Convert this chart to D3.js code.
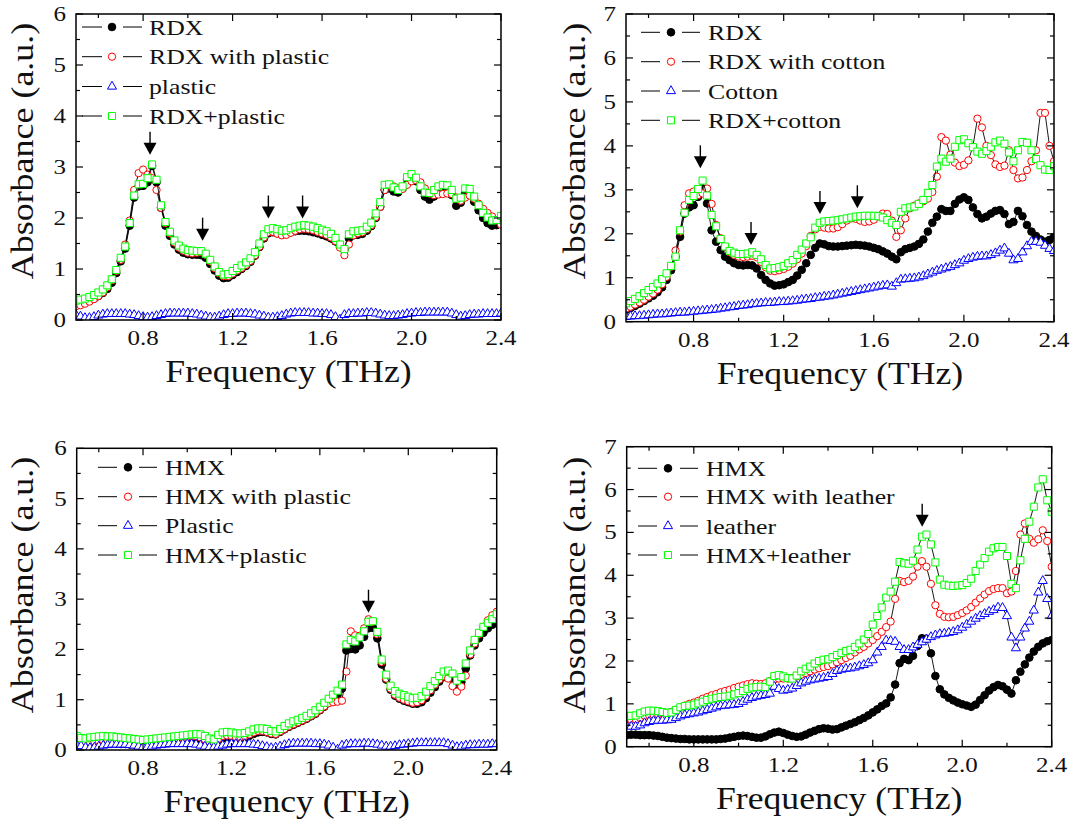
<!DOCTYPE html>
<html><head><meta charset="utf-8">
<script src="https://cdn.jsdelivr.net/npm/d3@7"></script>
<style>body{margin:0;background:#fff} svg{display:block}</style>
</head><body>
<svg id="c" width="1075" height="824"></svg>
<script>
// ---------- DATA ----------
const freq = [0.50,0.52,0.54,0.56,0.58,0.60,0.62,0.64,0.66,0.68,
0.70,0.72,0.74,0.76,0.78,0.80,0.82,0.84,0.86,0.88,
0.90,0.92,0.94,0.96,0.98,1.00,1.02,1.04,1.06,1.08,
1.10,1.12,1.14,1.16,1.18,1.20,1.22,1.24,1.26,1.28,
1.30,1.32,1.34,1.36,1.38,1.40,1.42,1.44,1.46,1.48,
1.50,1.52,1.54,1.56,1.58,1.60,1.62,1.64,1.66,1.68,
1.70,1.72,1.74,1.76,1.78,1.80,1.82,1.84,1.86,1.88,
1.90,1.92,1.94,1.96,1.98,2.00,2.02,2.04,2.06,2.08,
2.10,2.12,2.14,2.16,2.18,2.20,2.22,2.24,2.26,2.28,
2.30,2.32,2.34,2.36,2.38,2.40];

const xMajorTicks = [0.8,1.2,1.6,2.0,2.4];
const xTickLabels = ["0.8","1.2","1.6","2.0","2.4"];
const xMinorTicks = [0.6,1.0,1.4,1.8,2.2];

// Top-left: RDX / plastic
const tlNames = ["RDX","RDX with plastic","plastic","RDX+plastic"];
const tlRDX = [0.30,0.32,0.35,0.38,0.42,0.47,0.53,0.61,0.73,0.92,
1.15,1.40,1.85,2.40,2.62,2.63,2.70,3.02,2.70,2.20,
1.85,1.65,1.48,1.38,1.32,1.29,1.28,1.28,1.27,1.22,
1.10,0.97,0.87,0.82,0.83,0.88,0.94,1.00,1.06,1.14,
1.26,1.43,1.60,1.70,1.72,1.70,1.68,1.69,1.72,1.74,
1.75,1.75,1.74,1.72,1.70,1.67,1.64,1.60,1.54,1.45,
1.38,1.60,1.66,1.67,1.69,1.75,1.84,2.00,2.22,2.55,
2.58,2.52,2.50,2.58,2.76,2.82,2.72,2.55,2.42,2.36,
2.42,2.50,2.55,2.54,2.45,2.24,2.30,2.50,2.48,2.32,
2.15,2.00,1.90,1.85,1.86,1.92];
const tlRDXPlastic = [0.27,0.29,0.32,0.36,0.41,0.47,0.54,0.64,0.78,0.96,
1.18,1.48,1.95,2.55,2.88,2.95,2.85,2.78,2.55,2.20,
1.90,1.70,1.52,1.42,1.36,1.32,1.31,1.32,1.33,1.28,
1.15,1.02,0.92,0.86,0.86,0.91,0.97,1.02,1.08,1.16,
1.27,1.44,1.62,1.72,1.73,1.69,1.66,1.67,1.71,1.75,
1.78,1.79,1.78,1.76,1.73,1.70,1.67,1.62,1.55,1.42,
1.27,1.48,1.66,1.70,1.72,1.78,1.86,2.02,2.22,2.55,
2.64,2.62,2.58,2.57,2.65,2.72,2.74,2.70,2.58,2.48,
2.45,2.46,2.47,2.48,2.47,2.40,2.34,2.40,2.44,2.38,
2.28,2.18,2.10,2.03,1.95,1.87];
const tlPlastic = [0.10,0.07,0.04,0.04,0.06,0.09,0.11,0.12,0.12,0.12,
0.12,0.12,0.11,0.10,0.08,0.06,0.05,0.06,0.08,0.10,
0.12,0.13,0.13,0.13,0.13,0.13,0.12,0.11,0.09,0.07,
0.05,0.05,0.07,0.10,0.12,0.12,0.13,0.13,0.13,0.12,
0.11,0.09,0.07,0.05,0.05,0.06,0.08,0.11,0.13,0.14,
0.14,0.14,0.14,0.13,0.13,0.12,0.12,0.10,0.06,0.01,
0.10,0.12,0.12,0.13,0.13,0.14,0.14,0.13,0.11,0.09,
0.08,0.08,0.09,0.10,0.12,0.13,0.14,0.14,0.15,0.15,
0.15,0.15,0.15,0.15,0.13,0.10,0.07,0.08,0.10,0.11,
0.11,0.12,0.12,0.12,0.12,0.13];
const tlMix = [0.38,0.40,0.42,0.45,0.49,0.54,0.60,0.68,0.80,0.98,
1.22,1.44,1.90,2.44,2.66,2.67,2.78,3.05,2.75,2.25,
1.92,1.73,1.56,1.46,1.40,1.37,1.36,1.35,1.35,1.30,
1.18,1.05,0.94,0.89,0.90,0.96,1.02,1.07,1.13,1.21,
1.33,1.50,1.68,1.78,1.80,1.78,1.75,1.76,1.80,1.83,
1.85,1.86,1.85,1.83,1.80,1.77,1.74,1.69,1.61,1.48,
1.39,1.68,1.74,1.75,1.76,1.83,1.91,2.09,2.31,2.65,
2.66,2.60,2.55,2.62,2.80,2.86,2.79,2.62,2.50,2.49,
2.55,2.62,2.65,2.64,2.55,2.38,2.40,2.58,2.57,2.42,
2.25,2.10,2.01,1.95,1.96,2.04];
const tlArrowX = [0.831,1.066,1.36,1.513];
const tlArrowY = [3.24,1.555,1.99,1.99];

// Top-right: RDX / cotton
const trNames = ["RDX","RDX with cotton","Cotton","RDX+cotton"];
const trRDX = [0.27,0.31,0.36,0.41,0.47,0.53,0.59,0.67,0.78,0.95,
1.17,1.48,1.93,2.46,2.60,2.65,2.84,3.03,2.69,2.08,
1.82,1.63,1.48,1.40,1.33,1.29,1.28,1.29,1.28,1.21,
1.06,0.95,0.87,0.82,0.83,0.85,0.90,0.95,1.05,1.18,
1.33,1.52,1.68,1.78,1.76,1.72,1.71,1.71,1.72,1.73,
1.74,1.75,1.74,1.73,1.71,1.68,1.65,1.60,1.55,1.48,
1.42,1.58,1.65,1.68,1.71,1.77,1.87,2.05,2.25,2.39,
2.56,2.52,2.52,2.68,2.78,2.83,2.77,2.60,2.45,2.35,
2.39,2.46,2.52,2.54,2.45,2.22,2.27,2.52,2.40,2.20,
2.05,1.95,1.87,1.82,1.86,1.93];
const trRDXCotton = [0.30,0.34,0.39,0.44,0.50,0.57,0.64,0.73,0.85,1.02,
1.25,1.62,2.05,2.65,2.92,2.96,2.88,2.92,3.03,2.68,
2.20,1.90,1.70,1.58,1.52,1.48,1.47,1.48,1.50,1.47,
1.36,1.24,1.16,1.15,1.17,1.20,1.25,1.32,1.42,1.55,
1.72,1.95,2.10,2.16,2.14,2.12,2.12,2.15,2.22,2.30,
2.35,2.34,2.30,2.27,2.28,2.32,2.40,2.46,2.45,2.30,
1.93,2.08,2.35,2.58,2.64,2.69,2.74,2.80,2.95,3.30,
4.20,4.12,3.80,3.62,3.54,3.57,3.67,3.98,4.62,4.42,
4.00,3.79,3.58,3.52,3.55,3.90,3.45,3.26,3.28,3.45,
3.65,3.90,4.75,4.75,4.00,3.65];
const trCotton = [0.11,0.12,0.13,0.13,0.14,0.15,0.16,0.17,0.17,0.18,
0.19,0.20,0.21,0.21,0.22,0.23,0.24,0.25,0.26,0.27,
0.28,0.30,0.31,0.33,0.34,0.36,0.37,0.38,0.40,0.41,
0.42,0.43,0.43,0.44,0.45,0.45,0.46,0.47,0.48,0.50,
0.51,0.52,0.54,0.55,0.57,0.58,0.60,0.62,0.64,0.66,
0.68,0.70,0.72,0.74,0.76,0.78,0.80,0.82,0.83,0.80,
0.88,0.96,0.97,0.98,0.99,1.01,1.04,1.08,1.12,1.16,
1.19,1.22,1.25,1.29,1.33,1.39,1.43,1.46,1.48,1.49,
1.49,1.52,1.56,1.62,1.67,1.55,1.40,1.43,1.58,1.72,
1.82,1.82,1.80,1.73,1.66,1.61];
const trMix = [0.42,0.47,0.52,0.58,0.65,0.72,0.79,0.87,0.97,1.10,
1.27,1.48,2.08,2.48,2.77,2.86,3.02,3.21,2.87,2.43,
2.17,1.88,1.71,1.61,1.57,1.54,1.54,1.55,1.58,1.52,
1.42,1.29,1.21,1.22,1.24,1.27,1.33,1.40,1.52,1.64,
1.78,1.92,2.14,2.25,2.28,2.29,2.30,2.31,2.33,2.35,
2.37,2.39,2.40,2.41,2.41,2.41,2.40,2.37,2.31,2.25,
2.20,2.50,2.58,2.60,2.62,2.68,2.77,2.93,3.11,3.53,
3.71,3.64,3.71,3.98,4.13,4.15,4.06,3.97,3.87,3.82,
3.88,3.98,4.08,4.12,4.05,3.85,3.65,3.90,4.09,4.07,
3.90,3.70,3.56,3.46,3.45,3.54];
const trArrowX = [0.83,1.055,1.361,1.527];
const trArrowY = [3.49,1.745,2.45,2.58];

// Bottom-left: HMX / plastic
const blNames = ["HMX","HMX with plastic","Plastic","HMX+plastic"];
const blHMX = [0.16,0.14,0.12,0.12,0.13,0.14,0.15,0.15,0.14,0.13,
0.12,0.12,0.11,0.11,0.10,0.10,0.10,0.11,0.12,0.13,
0.14,0.15,0.16,0.18,0.20,0.22,0.23,0.23,0.21,0.17,
0.13,0.12,0.18,0.23,0.25,0.24,0.22,0.22,0.24,0.28,
0.32,0.35,0.36,0.35,0.32,0.31,0.36,0.41,0.46,0.50,
0.54,0.58,0.62,0.67,0.72,0.79,0.86,0.94,1.02,1.10,
1.22,1.98,2.01,2.00,2.08,2.25,2.42,2.43,2.22,1.70,
1.40,1.20,1.08,1.02,0.98,0.95,0.92,0.92,0.95,1.03,
1.14,1.25,1.36,1.45,1.48,1.43,1.30,1.35,1.62,1.88,
2.08,2.22,2.33,2.42,2.49,2.55];
const blHMXPlastic = [0.18,0.16,0.15,0.16,0.17,0.18,0.19,0.19,0.18,0.17,
0.16,0.15,0.15,0.14,0.13,0.13,0.13,0.14,0.15,0.16,
0.17,0.18,0.20,0.22,0.24,0.26,0.27,0.27,0.25,0.21,
0.17,0.15,0.22,0.28,0.29,0.28,0.26,0.26,0.28,0.31,
0.35,0.38,0.38,0.36,0.33,0.32,0.37,0.42,0.47,0.51,
0.55,0.59,0.63,0.68,0.73,0.80,0.87,0.93,0.95,0.96,
0.98,1.56,2.36,2.28,2.27,2.42,2.60,2.55,2.30,1.75,
1.42,1.22,1.10,1.04,1.00,0.97,0.94,0.95,0.99,1.08,
1.19,1.30,1.40,1.47,1.42,1.27,1.16,1.26,1.48,1.90,
2.12,2.30,2.45,2.58,2.68,2.75];
const blPlastic = [0.10,0.08,0.05,0.04,0.05,0.07,0.09,0.10,0.11,0.11,
0.11,0.11,0.10,0.09,0.07,0.06,0.06,0.07,0.09,0.10,
0.11,0.12,0.12,0.12,0.12,0.12,0.12,0.11,0.09,0.07,
0.05,0.05,0.07,0.09,0.11,0.12,0.12,0.12,0.12,0.12,
0.11,0.10,0.08,0.06,0.04,0.05,0.07,0.10,0.12,0.13,
0.13,0.13,0.13,0.13,0.12,0.12,0.11,0.09,0.05,0.01,
0.09,0.11,0.12,0.12,0.12,0.13,0.13,0.12,0.11,0.09,
0.07,0.07,0.08,0.10,0.11,0.12,0.13,0.14,0.14,0.14,
0.14,0.14,0.14,0.14,0.12,0.09,0.06,0.07,0.09,0.10,
0.10,0.11,0.11,0.11,0.12,0.12];
const blMix = [0.28,0.24,0.23,0.25,0.26,0.27,0.28,0.27,0.27,0.26,
0.25,0.24,0.23,0.22,0.21,0.20,0.21,0.22,0.23,0.24,
0.25,0.26,0.27,0.28,0.29,0.30,0.31,0.32,0.31,0.28,
0.23,0.21,0.30,0.35,0.36,0.35,0.33,0.33,0.34,0.37,
0.41,0.43,0.43,0.42,0.38,0.37,0.42,0.48,0.53,0.57,
0.60,0.64,0.68,0.73,0.79,0.86,0.94,1.02,1.10,1.18,
1.30,2.10,2.19,2.16,2.24,2.36,2.55,2.56,2.35,1.80,
1.50,1.28,1.17,1.12,1.09,1.06,1.03,1.04,1.07,1.16,
1.27,1.37,1.47,1.56,1.58,1.52,1.38,1.45,1.72,1.98,
2.19,2.33,2.45,2.53,2.60,2.70];
const blArrowX = [1.82];
const blArrowY = [2.73];

// Bottom-right: HMX / leather
const brNames = ["HMX","HMX with leather","leather","HMX+leather"];
const brHMX = [0.27,0.28,0.28,0.27,0.27,0.27,0.26,0.25,0.23,0.21,
0.20,0.19,0.18,0.18,0.17,0.17,0.17,0.17,0.17,0.17,
0.17,0.18,0.19,0.21,0.23,0.25,0.26,0.25,0.23,0.21,
0.21,0.24,0.29,0.33,0.35,0.32,0.28,0.25,0.23,0.24,
0.28,0.33,0.37,0.41,0.43,0.42,0.40,0.41,0.45,0.49,
0.53,0.57,0.62,0.67,0.73,0.80,0.87,0.95,1.01,1.15,
1.45,1.95,2.05,2.02,2.12,2.35,2.53,2.52,2.18,1.65,
1.34,1.22,1.14,1.08,1.03,0.99,0.96,0.93,0.98,1.09,
1.20,1.31,1.39,1.44,1.41,1.33,1.24,1.55,1.75,1.92,
2.08,2.22,2.33,2.41,2.46,2.49];
const brHMXLeather = [0.62,0.63,0.64,0.67,0.72,0.74,0.75,0.76,0.77,0.78,
0.81,0.86,0.91,0.96,1.00,1.03,1.07,1.12,1.16,1.20,
1.23,1.27,1.30,1.33,1.37,1.40,1.43,1.46,1.48,1.47,
1.46,1.48,1.53,1.57,1.59,1.59,1.59,1.60,1.64,1.68,
1.72,1.76,1.80,1.83,1.86,1.88,1.92,1.97,2.02,2.07,
2.12,2.20,2.27,2.33,2.41,2.49,2.58,2.68,2.79,2.92,
3.45,3.87,3.84,3.87,3.97,4.20,4.33,4.20,3.80,3.30,
3.10,3.03,3.02,3.03,3.07,3.12,3.18,3.26,3.36,3.46,
3.55,3.63,3.68,3.70,3.70,3.58,3.62,4.10,4.95,5.21,
4.85,4.76,4.84,5.05,4.80,4.20];
const brLeather = [0.48,0.47,0.47,0.50,0.55,0.58,0.60,0.61,0.61,0.62,
0.63,0.67,0.71,0.74,0.76,0.78,0.80,0.83,0.86,0.89,
0.92,0.95,0.96,0.97,0.98,1.00,1.05,1.10,1.14,1.17,
1.19,1.21,1.24,1.40,1.35,1.31,1.33,1.36,1.42,1.48,
1.52,1.55,1.57,1.59,1.61,1.63,1.70,1.77,1.80,1.82,
1.83,1.85,1.88,1.91,1.95,2.02,2.20,2.33,2.48,2.47,
2.45,2.33,2.26,2.26,2.32,2.38,2.44,2.50,2.56,2.60,
2.63,2.64,2.66,2.68,2.72,2.78,2.85,2.92,2.99,3.05,
3.10,3.15,3.19,3.25,3.24,3.05,2.55,2.30,2.55,2.76,
2.92,3.18,3.60,3.87,3.45,3.05];
const brMix = [0.72,0.72,0.73,0.78,0.82,0.84,0.84,0.83,0.81,0.79,
0.80,0.86,0.92,0.95,0.96,0.98,1.01,1.05,1.09,1.12,
1.14,1.16,1.17,1.19,1.22,1.25,1.30,1.35,1.38,1.39,
1.40,1.39,1.52,1.65,1.67,1.64,1.60,1.59,1.66,1.76,
1.82,1.87,1.94,2.00,2.03,2.04,2.09,2.14,2.19,2.23,
2.26,2.33,2.41,2.50,2.63,2.85,3.05,3.25,3.48,3.62,
3.85,4.31,4.28,4.27,4.34,4.60,4.90,4.95,4.72,4.30,
3.90,3.78,3.76,3.75,3.76,3.77,3.82,3.92,4.10,4.25,
4.40,4.55,4.63,4.66,4.66,4.45,3.80,3.70,4.35,4.85,
5.25,5.60,6.05,6.24,5.75,5.48];
const brArrowX = [1.821];
const brArrowY = [5.13];

// ---------- LAYOUT / STYLE ----------
const panels = [
  {x0:76, x1:501, y0:14, y1:320, yMax:6, names:tlNames,
   series:[tlRDX,tlRDXPlastic,tlPlastic,tlMix], ax:tlArrowX, ay:tlArrowY,
   leg:{rows:[27,56.7,86.5,116], l1:[82,102], m:112, l2:[123,142], tx:149}, ytX:33, ytY:151},
  {x0:626, x1:1054, y0:14, y1:321.7, yMax:7, names:trNames,
   series:[trRDX,trRDXCotton,trCotton,trMix], ax:trArrowX, ay:trArrowY,
   leg:{rows:[32.3,61.7,91,120.3], l1:[641,660], m:671, l2:[682,700], tx:708}, ytX:585, ytY:151},
  {x0:76.7, x1:496.7, y0:448.3, y1:750, yMax:6, names:blNames,
   series:[blHMX,blHMXPlastic,blPlastic,blMix], ax:blArrowX, ay:blArrowY,
   leg:{rows:[467.3,496.7,525.7,555], l1:[98,117], m:128, l2:[139,157], tx:165}, ytX:33, ytY:585},
  {x0:626.7, x1:1051.7, y0:446.7, y1:746.7, yMax:7, names:brNames,
   series:[brHMX,brHMXLeather,brLeather,brMix], ax:brArrowX, ay:brArrowY,
   leg:{rows:[468.3,496.7,526,555], l1:[638,657], m:668, l2:[680,698], tx:706}, ytX:585, ytY:585}
];

const FONT = '"Liberation Serif","Times New Roman",serif';
const symTypes = [d3.symbolCircle, d3.symbolCircle, d3.symbolTriangle, d3.symbolSquare];
const symSizes = [46, 42, 36, 50];
const strokeCols = ['#000000','#ff0000','#0000ff','#00ff00'];
const fillCols = ['#000000','#ffffff','#ffffff','#ffffff'];

const svg = d3.select('#c');

panels.forEach((p, pi) => {
  const x = d3.scaleLinear().domain([0.5, 2.4]).range([p.x0, p.x1]);
  const y = d3.scaleLinear().domain([0, p.yMax]).range([p.y1, p.y0]);
  const g = svg.append('g');

  const clipId = 'clip' + pi;
  svg.append('clipPath').attr('id', clipId).append('rect')
    .attr('x', p.x0).attr('y', p.y0).attr('width', p.x1 - p.x0).attr('height', p.y1 - p.y0);

  const plot = g.append('g').attr('clip-path', `url(#${clipId})`);
  p.series.forEach((vals, i) => {
    const pts = freq.map((f, k) => [f, vals[k]]);
    plot.append('path')
      .attr('d', d3.line().x(d => x(d[0])).y(d => y(d[1]))(pts))
      .attr('fill', 'none').attr('stroke', '#000').attr('stroke-width', 0.9);
    plot.append('g').selectAll('path').data(pts).join('path')
      .attr('transform', d => `translate(${x(d[0])},${y(d[1])})`)
      .attr('d', d3.symbol().type(symTypes[i]).size(symSizes[i]))
      .attr('fill', fillCols[i]).attr('stroke', strokeCols[i]).attr('stroke-width', 1);
  });

  // arrows
  p.ax.forEach((ax, i) => {
    const cx = x(ax), ty = y(p.ay[i]);
    g.append('line').attr('x1', cx).attr('x2', cx).attr('y1', ty - 23).attr('y2', ty - 10)
      .attr('stroke', '#000').attr('stroke-width', 1.4);
    g.append('path').attr('d', `M${cx - 6.5},${ty - 12}L${cx + 6.5},${ty - 12}L${cx},${ty}Z`).attr('fill', '#000');
  });

  // ticks (inward, all four sides)
  const tk = g.append('g').attr('stroke', '#000').attr('stroke-width', 1.2);
  const xt = xMajorTicks.map(v => [v, 7]).concat(xMinorTicks.map(v => [v, 4]));
  xt.forEach(([v, len]) => {
    tk.append('line').attr('x1', x(v)).attr('x2', x(v)).attr('y1', p.y1).attr('y2', p.y1 - len);
    tk.append('line').attr('x1', x(v)).attr('x2', x(v)).attr('y1', p.y0).attr('y2', p.y0 + len);
  });
  const yt = [];
  for (let v = 0; v <= p.yMax; v += 0.5) yt.push([v, Number.isInteger(v) ? 7 : 4]);
  yt.forEach(([v, len]) => {
    tk.append('line').attr('y1', y(v)).attr('y2', y(v)).attr('x1', p.x0).attr('x2', p.x0 + len);
    tk.append('line').attr('y1', y(v)).attr('y2', y(v)).attr('x1', p.x1).attr('x2', p.x1 - len);
  });

  // frame
  g.append('rect').attr('x', p.x0).attr('y', p.y0).attr('width', p.x1 - p.x0).attr('height', p.y1 - p.y0)
    .attr('fill', 'none').attr('stroke', '#000').attr('stroke-width', 1.5);

  // tick labels
  xMajorTicks.forEach((v, i) => {
    g.append('text').attr('transform', `translate(${x(v)},${p.y1 + 25}) scale(1.25,1)`)
      .attr('text-anchor', 'middle').attr('font-family', FONT).attr('font-size', 20).attr('fill', '#111')
      .text(xTickLabels[i]);
  });
  d3.range(0, p.yMax + 1).forEach(v => {
    g.append('text').attr('transform', `translate(${p.x0 - 10},${y(v) + 7}) scale(1.25,1)`)
      .attr('text-anchor', 'end').attr('font-family', FONT).attr('font-size', 20).attr('fill', '#111')
      .text(String(v));
  });

  // axis titles
  g.append('text').attr('transform', `translate(${(p.x0 + p.x1) / 2},${p.y1 + 62}) scale(1.15,1)`)
    .attr('text-anchor', 'middle').attr('font-family', FONT).attr('font-size', 31).attr('fill', '#111')
    .text('Frequency (THz)');
  g.append('text').attr('transform', `translate(${p.ytX},${p.ytY}) rotate(-90) scale(1.16,1)`)
    .attr('text-anchor', 'middle').attr('font-family', FONT).attr('font-size', 31).attr('fill', '#111')
    .text('Absorbance (a.u.)');

  // legend
  const L = p.leg;
  p.names.forEach((name, i) => {
    const ry = L.rows[i];
    g.append('line').attr('x1', L.l1[0]).attr('x2', L.l1[1]).attr('y1', ry).attr('y2', ry)
      .attr('stroke', '#000').attr('stroke-width', 1);
    g.append('line').attr('x1', L.l2[0]).attr('x2', L.l2[1]).attr('y1', ry).attr('y2', ry)
      .attr('stroke', '#000').attr('stroke-width', 1);
    g.append('path').attr('transform', `translate(${L.m},${ry})`)
      .attr('d', d3.symbol().type(symTypes[i]).size(symSizes[i]))
      .attr('fill', fillCols[i]).attr('stroke', strokeCols[i]).attr('stroke-width', 1);
    g.append('text').attr('transform', `translate(${L.tx},${ry + 7.5}) scale(1.17,1)`)
      .attr('font-family', FONT).attr('font-size', 22).attr('fill', '#111').text(name);
  });
});
</script>
</body></html>
